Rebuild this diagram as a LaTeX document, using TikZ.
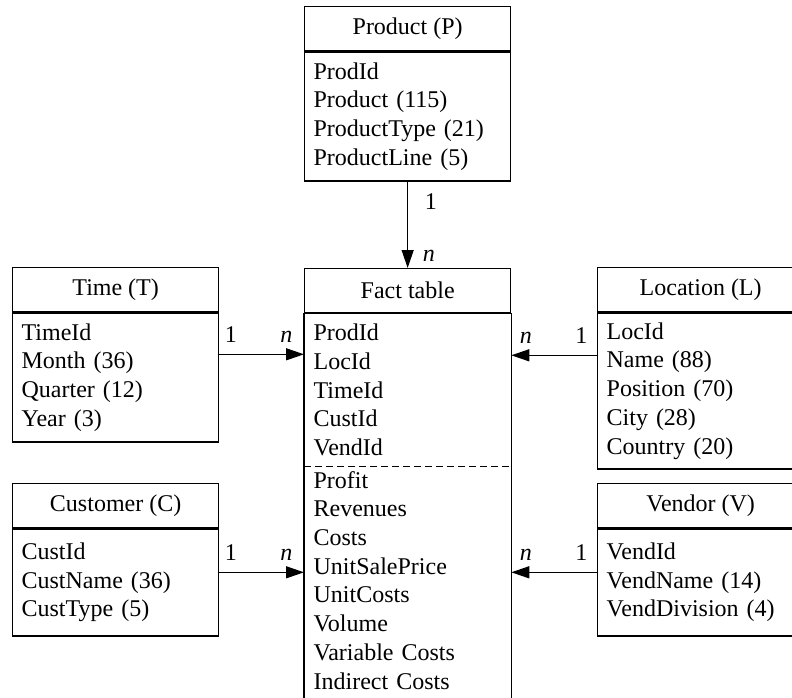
\documentclass[tikz,border=0pt]{standalone}
\usepackage{fontspec}
\setmainfont{Liberation Serif}
\usetikzlibrary{arrows.meta}

\begin{document}
\begin{tikzpicture}[x=1pt,y=-1pt,
  every node/.style={font=\fontsize{24}{28.7}\selectfont},
  head/.style={draw,line width=1.3pt,anchor=north west,minimum width=206pt,minimum height=44pt,inner sep=0pt},
  body/.style={draw,line width=1.3pt,anchor=north west,text width=188pt,inner xsep=9pt,inner ysep=4pt,align=left},
  fk/.style={line width=1.3pt,-{Triangle[length=18pt,width=12pt]}},
  card/.style={inner sep=0pt}]
\path[clip,use as bounding box] (0,0) rectangle (792,698);
\fill[white] (0,0) rectangle (792,698);

% dimensions
\node[head] (prodH) at (304,6) {Product (P)};
\node[body,minimum height=129pt] (prod) at (prodH.south west)
  {ProdId\\Product (115)\\ProductType (21)\\ProductLine (5)};

\node[head] (timeH) at (12,267) {Time (T)};
\node[body,minimum height=129pt] (time) at (timeH.south west)
  {TimeId\\Month (36)\\Quarter (12)\\Year (3)};

\node[head] (custH) at (12,483) {Customer (C)};
\node[body,minimum height=107pt] (cust) at (custH.south west)
  {CustId\\CustName (36)\\CustType (5)};

\node[head] (locH) at (597,267) {Location (L)};
\node[body,minimum height=156pt] (loc) at (locH.south west)
  {LocId\\Name (88)\\Position (70)\\City (28)\\Country (20)};

\node[head] (vendH) at (597,483) {Vendor (V)};
\node[body,minimum height=107pt] (vend) at (vendH.south west)
  {VendId\\VendName (14)\\VendDivision (4)};

% fact table
\node[head] (factH) at (304,268) {Fact table};
\node[body,draw=none,minimum height=152pt] (keys) at (factH.south west)
  {ProdId\\LocId\\TimeId\\CustId\\VendId};
\node[body,draw=none] (meas) at (keys.south west)
  {Profit\\Revenues\\Costs\\UnitSalePrice\\UnitCosts\\Volume\\Variable Costs\\Indirect Costs};
\draw[line width=1.3pt] (keys.north west) rectangle ([yshift=-30pt]meas.south east);
\draw[line width=1pt,dash pattern=on 7pt off 4pt] (keys.south west) -- (keys.south east);

% links
\draw[fk] (prod.south) -- (factH.north);
\node[card,anchor=north west,xshift=17pt,yshift=-12pt] at (prod.south) {1};
\node[card,anchor=south west,xshift=15pt,yshift=6pt] at (factH.north) {\textit{n}};

\coordinate (t1) at ([yshift=-42pt]time.north east);
\draw[fk] (t1) -- node[card,pos=0,anchor=south west,xshift=5pt,yshift=11pt] {1}
  node[card,pos=1,anchor=south east,xshift=-11pt,yshift=11pt] {\textit{n}} (t1 -| keys.west);

\coordinate (c1) at ([yshift=-44pt]cust.north east);
\draw[fk] (c1) -- node[card,pos=0,anchor=south west,xshift=5pt,yshift=11pt] {1}
  node[card,pos=1,anchor=south east,xshift=-11pt,yshift=11pt] {\textit{n}} (c1 -| keys.west);

\coordinate (l1) at ([yshift=-43pt]loc.north west);
\draw[fk] (l1) -- node[card,pos=0,anchor=south east,xshift=-9pt,yshift=11pt] {1}
  node[card,pos=1,anchor=south west,xshift=8pt,yshift=11pt] {\textit{n}} (l1 -| keys.east);

\coordinate (v1) at ([yshift=-44pt]vend.north west);
\draw[fk] (v1) -- node[card,pos=0,anchor=south east,xshift=-9pt,yshift=11pt] {1}
  node[card,pos=1,anchor=south west,xshift=8pt,yshift=11pt] {\textit{n}} (v1 -| keys.east);
\end{tikzpicture}
\end{document}
